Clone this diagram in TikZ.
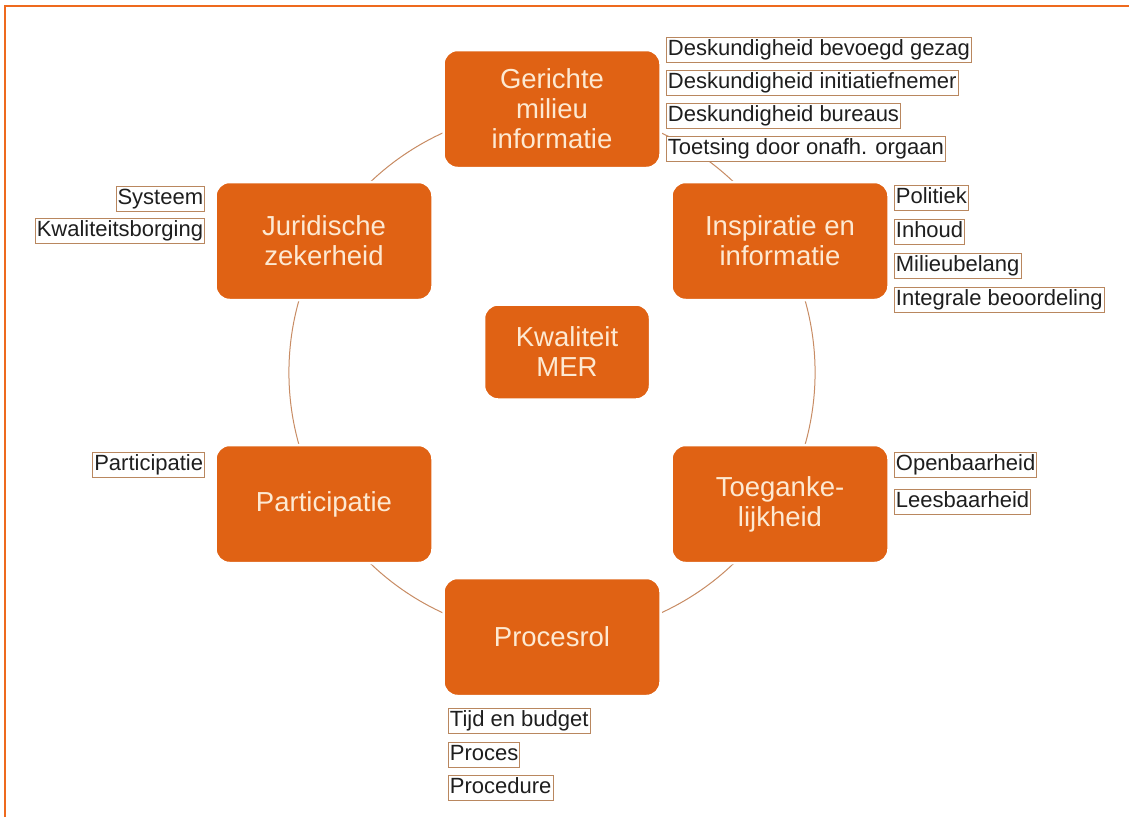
\documentclass[tikz,border=0pt]{standalone}
\usepackage{fontspec}
\setmainfont{Liberation Sans}
\usetikzlibrary{backgrounds}
\definecolor{boxor}{RGB}{224,98,20}
\definecolor{boxtxt}{RGB}{253,233,210}
\definecolor{framec}{RGB}{238,106,30}
\definecolor{arcc}{RGB}{200,140,100}
\definecolor{lblb}{RGB}{185,135,95}
\definecolor{lbltxt}{RGB}{30,30,30}
\begin{document}
\begin{tikzpicture}[x=1pt,y=-1pt,
 bigbox/.style={fill=boxor, draw=white, line width=2.5pt, rounded corners=14pt, minimum width=217pt, minimum height=118pt, align=center, text=boxtxt, font=\fontsize{27.5}{30}\selectfont},
 lbl/.style={draw=lblb, line width=0.8pt, fill=white, text=lbltxt, font=\fontsize{22}{24}\selectfont, inner xsep=1.5pt, inner ysep=2pt, text height=16pt, text depth=4.5pt},
 ring/.style={draw=arcc, line width=1pt, bend left=30, looseness=0.912}]
\useasboundingbox (0,0) rectangle (1129,817);
\draw[framec, line width=2.5pt] (5,817) -- (5,6) -- (1129,6);

\node[bigbox] (gmi) at (552,109) {Gerichte\\milieu\\informatie};
\node[bigbox] (ii) at (780,241) {Inspiratie en\\informatie};
\node[bigbox] (toe) at (780,504) {Toeganke-\\lijkheid};
\node[bigbox] (pro) at (552,637) {Procesrol};
\node[bigbox] (par) at (324,504) {Participatie};
\node[bigbox] (jur) at (324,241) {Juridische\\zekerheid};
\node[bigbox, minimum width=166pt, minimum height=95pt] (mer) at (567,352) {Kwaliteit\\MER};

\begin{scope}[on background layer]
\fill[white] (0,0) rectangle (1129,817);
\draw[ring] (gmi.center) to (ii.center);
\draw[ring] (ii.center) to (toe.center);
\draw[ring] (toe.center) to (pro.center);
\draw[ring] (pro.center) to (par.center);
\draw[ring] (par.center) to (jur.center);
\draw[ring] (jur.center) to (gmi.center);
\end{scope}

\node[lbl, anchor=west] (g1) at (666,50) {Deskundigheid bevoegd gezag};
\node[lbl, anchor=west] (g2) at (666,83) {Deskundigheid initiatiefnemer};
\node[lbl, anchor=west] (g3) at (666,116) {Deskundigheid bureaus};
\node[lbl, anchor=west] (g4) at (666,149) {Toetsing door onafh. orgaan};

\node[lbl, anchor=west] (i1) at (894,198) {Politiek};
\node[lbl, anchor=west] (i2) at (894,232) {Inhoud};
\node[lbl, anchor=west] (i3) at (894,266) {Milieubelang};
\node[lbl, anchor=west] (i4) at (894,300) {Integrale beoordeling};

\node[lbl, anchor=east] (j1) at (205,199) {Systeem};
\node[lbl, anchor=east] (j2) at (205,231) {Kwaliteitsborging};

\node[lbl, anchor=east] (p1) at (205,465) {Participatie};

\node[lbl, anchor=west] (t1) at (894,465) {Openbaarheid};
\node[lbl, anchor=west] (t2) at (894,502) {Leesbaarheid};

\node[lbl, anchor=west] (r1) at (448,721) {Tijd en budget};
\node[lbl, anchor=west] (r2) at (448,755) {Proces};
\node[lbl, anchor=west] (r3) at (448,788) {Procedure};
\end{tikzpicture}
\end{document}
